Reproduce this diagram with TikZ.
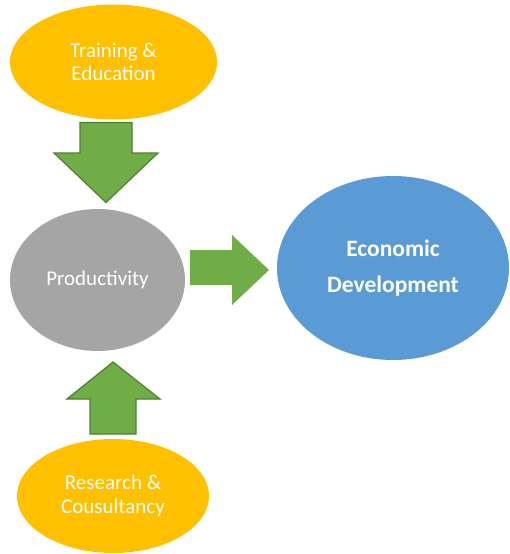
\documentclass[tikz,border=0pt]{standalone}
\usepackage{fontspec}
\setmainfont{Carlito}
\usetikzlibrary{shapes.geometric}
\definecolor{yel}{HTML}{FFC000}
\definecolor{gry}{HTML}{A5A5A5}
\definecolor{blu}{HTML}{5B9BD5}
\definecolor{grn}{HTML}{70AD47}
\definecolor{grnd}{HTML}{507E32}
\tikzset{
  oval/.style={ellipse, draw=none, text=white, align=center, inner sep=0pt},
  garrow/.style={fill=grn, draw=grnd, line width=1.2pt, line join=miter},
}
\begin{document}
\begin{tikzpicture}[x=1pt,y=-1pt]
\useasboundingbox (0,0) rectangle (509,554);
\node[oval, fill=yel, minimum width=207pt, minimum height=115pt,
  font=\fontsize{21}{23.5}\selectfont] (train) at (113.5,62) {Training \&\\Education};
\node[oval, fill=gry, minimum width=175pt, minimum height=142pt,
  font=\fontsize{21}{24}\selectfont] (prod) at (97.5,280) {Productivity};
\node[oval, fill=blu, minimum width=232pt, minimum height=184pt,
  font=\bfseries\fontsize{23.5}{36}\selectfont] (econ) at (393,268) {Economic\\Development};
\node[oval, fill=yel, minimum width=192pt, minimum height=114pt,
  font=\fontsize{21}{23.5}\selectfont] (res) at (113,496) {Research \&\\Cousultancy};
% down arrow
\draw[garrow] (80,122.5) -- (132,122.5) -- (132,153) -- (158,153) -- (106,202.5)
  -- (54,153) -- (80,153) -- cycle;
% up arrow
\draw[garrow] (90,434) -- (136,434) -- (136,399) -- (160,399) -- (113,362)
  -- (67,399) -- (90,399) -- cycle;
% right arrow
\fill[grn] (190,250) -- (232,250) -- (232,235) -- (269,270) -- (232,305)
  -- (232,285) -- (190,285) -- cycle;
\end{tikzpicture}
\end{document}
